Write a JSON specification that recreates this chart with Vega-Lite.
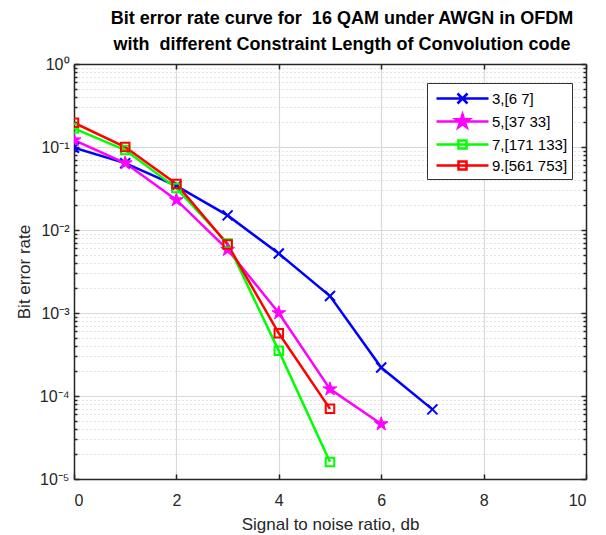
{
  "$schema": "https://vega.github.io/schema/vega-lite/v6.json",
  "width": 512,
  "height": 415,
  "autosize": "none",
  "padding": {"left": 74, "top": 64, "right": 20, "bottom": 56},
  "background": "white",
  "title": {
    "text": ["Bit error rate curve for \u00a016 QAM under AWGN in OFDM", "with \u00a0different Constraint Length of Convolution code"],
    "font": "Liberation Sans",
    "fontSize": 18,
    "fontWeight": "bold",
    "color": "#000000",
    "anchor": "middle",
    "dx": 12,
    "lineHeight": 26,
    "offset": 2
  },
  "config": {
    "view": {"stroke": null},
    "axis": {
      "labelFont": "Liberation Sans",
      "labelFontSize": 16,
      "labelColor": "#262626",
      "titleFont": "Liberation Sans",
      "titleFontSize": 17,
      "titleFontWeight": "normal",
      "titleColor": "#262626",
      "domainColor": "#262626",
      "domainWidth": 1.5,
      "tickColor": "#262626",
      "tickWidth": 1.5
    }
  },
  "data": {
    "values": [
      {"snr": 0, "ber": 0.098, "series": "3,[6 7]"},
      {"snr": 1, "ber": 0.064, "series": "3,[6 7]"},
      {"snr": 2, "ber": 0.034, "series": "3,[6 7]"},
      {"snr": 3, "ber": 0.015, "series": "3,[6 7]"},
      {"snr": 4, "ber": 0.0052, "series": "3,[6 7]"},
      {"snr": 5, "ber": 0.0016, "series": "3,[6 7]"},
      {"snr": 6, "ber": 0.00022, "series": "3,[6 7]"},
      {"snr": 7, "ber": 0.000069, "series": "3,[6 7]"},
      {"snr": 0, "ber": 0.121, "series": "5,[37 33]"},
      {"snr": 1, "ber": 0.064, "series": "5,[37 33]"},
      {"snr": 2, "ber": 0.023, "series": "5,[37 33]"},
      {"snr": 3, "ber": 0.0058, "series": "5,[37 33]"},
      {"snr": 4, "ber": 0.001, "series": "5,[37 33]"},
      {"snr": 5, "ber": 0.000121, "series": "5,[37 33]"},
      {"snr": 6, "ber": 0.000046, "series": "5,[37 33]"},
      {"snr": 0, "ber": 0.168, "series": "7,[171 133]"},
      {"snr": 1, "ber": 0.092, "series": "7,[171 133]"},
      {"snr": 2, "ber": 0.032, "series": "7,[171 133]"},
      {"snr": 3, "ber": 0.0069, "series": "7,[171 133]"},
      {"snr": 4, "ber": 0.00035, "series": "7,[171 133]"},
      {"snr": 5, "ber": 0.000016, "series": "7,[171 133]"},
      {"snr": 0, "ber": 0.196, "series": "9.[561 753]"},
      {"snr": 1, "ber": 0.1, "series": "9.[561 753]"},
      {"snr": 2, "ber": 0.0358, "series": "9.[561 753]"},
      {"snr": 3, "ber": 0.0067, "series": "9.[561 753]"},
      {"snr": 4, "ber": 0.00057, "series": "9.[561 753]"},
      {"snr": 5, "ber": 0.00007, "series": "9.[561 753]"}
    ]
  },
  "layer": [
    {
      "mark": {"type": "line", "strokeWidth": 2.5, "clip": true},
      "encoding": {
        "x": {
          "field": "snr", "type": "quantitative",
          "scale": {"domain": [0, 10], "nice": false, "zero": false},
          "axis": {
            "orient": "bottom",
            "values": [0, 2, 4, 6, 8, 10],
            "title": "Signal to noise ratio, db",
            "grid": true,
            "gridColor": "#d9d9d9",
            "gridWidth": 1.2,
            "tickSize": -5,
            "labelPadding": 18,
            "titlePadding": 8
          }
        },
        "y": {
          "field": "ber", "type": "quantitative",
          "scale": {"type": "log", "domain": [0.00001, 1], "nice": false},
          "axis": {
            "orient": "left",
            "values": [0.00001, 0.00002, 0.00003, 0.00004, 0.00005, 0.00006, 0.00007, 0.00008, 0.00009,
                       0.0001, 0.0002, 0.0003, 0.0004, 0.0005, 0.0006, 0.0007, 0.0008, 0.0009,
                       0.001, 0.002, 0.003, 0.004, 0.005, 0.006, 0.007, 0.008, 0.009,
                       0.01, 0.02, 0.03, 0.04, 0.05, 0.06, 0.07, 0.08, 0.09,
                       0.1, 0.2, 0.3, 0.4, 0.5, 0.6, 0.7, 0.8, 0.9, 1],
            "labelExpr": "datum.value == 1 ? '10⁰' : datum.value == 0.1 ? '10⁻¹' : datum.value == 0.01 ? '10⁻²' : datum.value == 0.001 ? '10⁻³' : datum.value == 0.0001 ? '10⁻⁴' : datum.value == 0.00001 ? '10⁻⁵' : ''",
            "title": "Bit error rate",
            "grid": true,
            "gridColor": {"condition": {"test": "indexof([1,0.1,0.01,0.001,0.0001,0.00001], datum.value) >= 0", "value": "#d9d9d9"}, "value": "#c8c8c8"},
            "gridDash": {"condition": {"test": "indexof([1,0.1,0.01,0.001,0.0001,0.00001], datum.value) >= 0", "value": []}, "value": [1, 3]},
            "gridWidth": {"condition": {"test": "indexof([1,0.1,0.01,0.001,0.0001,0.00001], datum.value) >= 0", "value": 1.2}, "value": 1},
            "tickSize": {"condition": {"test": "indexof([1,0.1,0.01,0.001,0.0001,0.00001], datum.value) >= 0", "value": -5}, "value": -3},
            "labelPadding": 10,
            "labelOverlap": false,
            "labelBound": false,
            "labelFlush": false,
            "titlePadding": 6
          }
        },
        "color": {
          "field": "series", "type": "nominal",
          "scale": {"domain": ["3,[6 7]", "5,[37 33]", "7,[171 133]", "9.[561 753]"], "range": ["#0000FF", "#FF00FF", "#00FF00", "#FF0000"]},
          "legend": {
            "title": null,
            "orient": "none",
            "legendX": 353,
            "legendY": 19,
            "strokeColor": "#333333",
            "fillColor": "white",
            "padding": 4,
            "symbolSize": 400,
            "symbolStrokeWidth": 2.5,
            "symbolOffset": 20,
            "labelOffset": 18,
            "labelFontSize": 15,
            "labelFont": "Liberation Sans",
            "labelColor": "#000000",
            "rowPadding": 0,
            "encode": {
              "symbols": {
                "update": {
                  "shape": [
                    {"test": "datum.value === '3,[6 7]'", "value": "M-2.6,0L2.6,0M-0.5,-0.5L0.5,0.5M-0.5,0.5L0.5,-0.5"},
                    {"test": "datum.value === '5,[37 33]'", "value": "M-2.6,0L2.6,0M0,-0.7L0.157,-0.216L0.666,-0.216L0.254,0.083L0.412,0.566L0,0.267L-0.412,0.566L-0.254,0.083L-0.666,-0.216L-0.157,-0.216Z"},
                    {"value": "M-2.6,0L2.6,0M-0.4,-0.4L0.4,-0.4L0.4,0.4L-0.4,0.4Z"}
                  ],
                  "fill": [
                    {"test": "datum.value === '5,[37 33]'", "value": "#FF00FF"},
                    {"value": "transparent"}
                  ]
                }
              }
            }
          }
        }
      }
    },
    {
      "transform": [{"filter": "datum.series === '3,[6 7]'"}],
      "mark": {"type": "point", "shape": "M-1,-1L1,1M-1,1L1,-1", "size": 100, "filled": false, "strokeWidth": 2, "opacity": 1, "clip": true},
      "encoding": {
        "x": {
          "field": "snr", "type": "quantitative",
          "axis": {
            "orient": "top", "values": [0, 2, 4, 6, 8, 10], "labels": false, "title": null, "grid": false, "tickSize": -5
          }
        },
        "y": {
          "field": "ber", "type": "quantitative",
          "axis": {
            "orient": "right",
            "values": [0.00001, 0.00002, 0.00003, 0.00004, 0.00005, 0.00006, 0.00007, 0.00008, 0.00009,
                       0.0001, 0.0002, 0.0003, 0.0004, 0.0005, 0.0006, 0.0007, 0.0008, 0.0009,
                       0.001, 0.002, 0.003, 0.004, 0.005, 0.006, 0.007, 0.008, 0.009,
                       0.01, 0.02, 0.03, 0.04, 0.05, 0.06, 0.07, 0.08, 0.09,
                       0.1, 0.2, 0.3, 0.4, 0.5, 0.6, 0.7, 0.8, 0.9, 1],
            "labels": false, "title": null, "grid": false,
            "tickSize": {"condition": {"test": "indexof([1,0.1,0.01,0.001,0.0001,0.00001], datum.value) >= 0", "value": -5}, "value": -3}
          }
        },
        "color": {"field": "series", "type": "nominal"}
      }
    },
    {
      "transform": [{"filter": "datum.series === '5,[37 33]'"}],
      "mark": {"type": "point", "shape": "M0,-1L0.2245,-0.309L0.951,-0.309L0.363,0.118L0.588,0.809L0,0.382L-0.588,0.809L-0.363,0.118L-0.951,-0.309L-0.2245,-0.309Z", "size": 210, "filled": false, "fill": "#FF00FF", "strokeWidth": 1, "opacity": 1, "clip": true},
      "encoding": {
        "x": {"field": "snr", "type": "quantitative", "axis": null},
        "y": {"field": "ber", "type": "quantitative", "axis": null},
        "color": {"field": "series", "type": "nominal"}
      }
    },
    {
      "transform": [{"filter": "datum.series === '7,[171 133]' || datum.series === '9.[561 753]'"}],
      "mark": {"type": "point", "shape": "M-1,-1L1,-1L1,1L-1,1Z", "size": 72, "filled": false, "strokeWidth": 2, "opacity": 1, "clip": true},
      "encoding": {
        "x": {"field": "snr", "type": "quantitative", "axis": null},
        "y": {"field": "ber", "type": "quantitative", "axis": null},
        "color": {"field": "series", "type": "nominal"}
      }
    }
  ],
  "resolve": {"axis": {"x": "independent", "y": "independent"}}
}
